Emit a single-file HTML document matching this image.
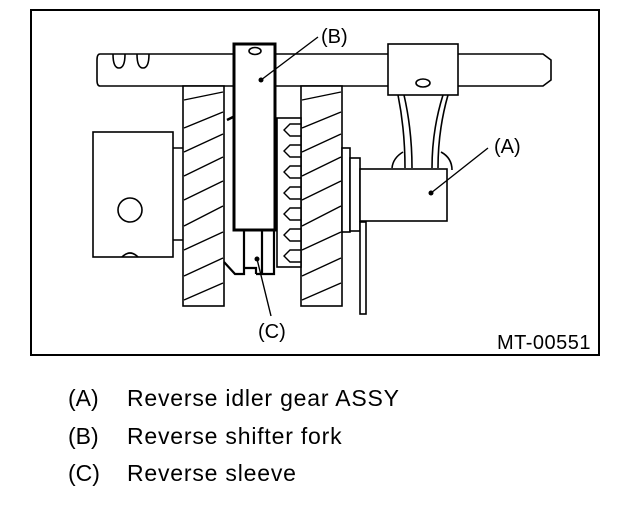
<!DOCTYPE html>
<html><head><meta charset="utf-8"><style>
html,body{margin:0;padding:0;background:#fff;width:640px;height:508px;overflow:hidden}
svg{display:block}
text{font-family:"Liberation Sans",Arial,sans-serif;fill:#000}
</style></head><body>
<svg width="640" height="508" viewBox="0 0 640 508" xmlns="http://www.w3.org/2000/svg">
<rect x="31" y="10" width="568" height="345" fill="#fff" stroke="#000" stroke-width="2"/>
<g fill="#fff" stroke="#000" stroke-width="1.6">
<!-- shaft -->
<path d="M100,54 H543 L551,60 V80 L543,86 H100 Q97,86 97,80 V60 Q97,54 100,54 Z"/>
<path d="M113,54 Q113,68 119,68 Q125,68 125,54 M137,54 Q137,68 143,68 Q149,68 149,54" fill="none"/>
<!-- left box -->
<rect x="93" y="132" width="80" height="125"/>
<circle cx="130" cy="210" r="12"/>
<path d="M122,257 Q130,249 138,257" fill="none"/>
<path d="M173,148 H183 M173,240 H183" fill="none"/>
<!-- left gear -->
<rect x="183" y="86" width="41" height="220"/>
<!-- right gear -->
<rect x="301" y="86" width="41" height="220"/>
<!-- teeth strip -->
<rect x="277" y="118" width="24" height="149"/>
<!-- sleeve below fork -->
<path d="M224,262 L235,274 H244 V230 M244,274 V268 H256 V274 M256,274 H262 V230 M262,274 H274 V230" fill="none" stroke-width="2.2"/>
<path d="M227,120 L233,117" fill="none" stroke-width="2.5"/>
<!-- fork -->
<rect x="234" y="44" width="41" height="186" stroke-width="3"/>
<ellipse cx="255" cy="51" rx="6" ry="3.5"/>
<!-- right flange & plate -->
<rect x="342" y="148" width="8" height="84"/>
<rect x="350" y="158" width="10" height="73"/>
<rect x="360" y="222" width="6" height="92"/>
<!-- neck -->
<path d="M398,95 Q405,130 405,168 M404,95 Q412,130 412,168 M448,95 Q438,130 438,168 M443,95 Q432,130 432,168" fill="none"/>
<path d="M392,168 Q393,158 403,152 M441,152 Q452,158 452,170" fill="none"/>
<!-- top block -->
<rect x="388" y="44" width="70" height="51"/>
<ellipse cx="423" cy="83" rx="7" ry="4"/>
<!-- box A -->
<rect x="360" y="169" width="87" height="52"/>
</g>
<!-- gear hatching -->
<g stroke="#000" stroke-width="1.4" fill="none">
<path d="M184,100 L223,92 M184,128 L223,112 M184,152 L223,134 M184,176 L223,157 M184,200 L223,181 M184,226 L223,206 M184,250 L223,232 M184,276 L223,258 M184,300 L223,283"/>
<path d="M302,100 L341,92 M302,128 L341,112 M302,152 L341,134 M302,176 L341,157 M302,200 L341,181 M302,226 L341,206 M302,250 L341,232 M302,276 L341,258 M302,300 L341,283"/>
<path d="M301,124 H290 L284,130 L290,136 H301 M301,145 H290 L284,151 L290,157 H301 M301,166 H290 L284,172 L290,178 H301 M301,187 H290 L284,193 L290,199 H301 M301,208 H290 L284,214 L290,220 H301 M301,229 H290 L284,235 L290,241 H301 M301,250 H290 L284,256 L290,262 H301"/>
<!-- leaders -->
<path d="M261,80 L318,37 M431,193 L488,148 M257,259 L271,316"/>
</g>
<circle cx="261" cy="80" r="2.5"/><circle cx="431" cy="193" r="2.5"/><circle cx="257" cy="259" r="2.5"/>
<text x="321" y="43" font-size="20">(B)</text>
<text x="494" y="153" font-size="20">(A)</text>
<text x="258" y="338" font-size="20">(C)</text>
<text x="497" y="349" font-size="20" letter-spacing="0.5">MT-00551</text>
<g font-size="23">
<text x="68" y="406">(A)</text><text x="127" y="406" letter-spacing="0.8">Reverse idler gear ASSY</text>
<text x="68" y="444">(B)</text><text x="127" y="444" letter-spacing="0.8">Reverse shifter fork</text>
<text x="68" y="481">(C)</text><text x="127" y="481" letter-spacing="0.8">Reverse sleeve</text>
</g>
</svg>
</body></html>
